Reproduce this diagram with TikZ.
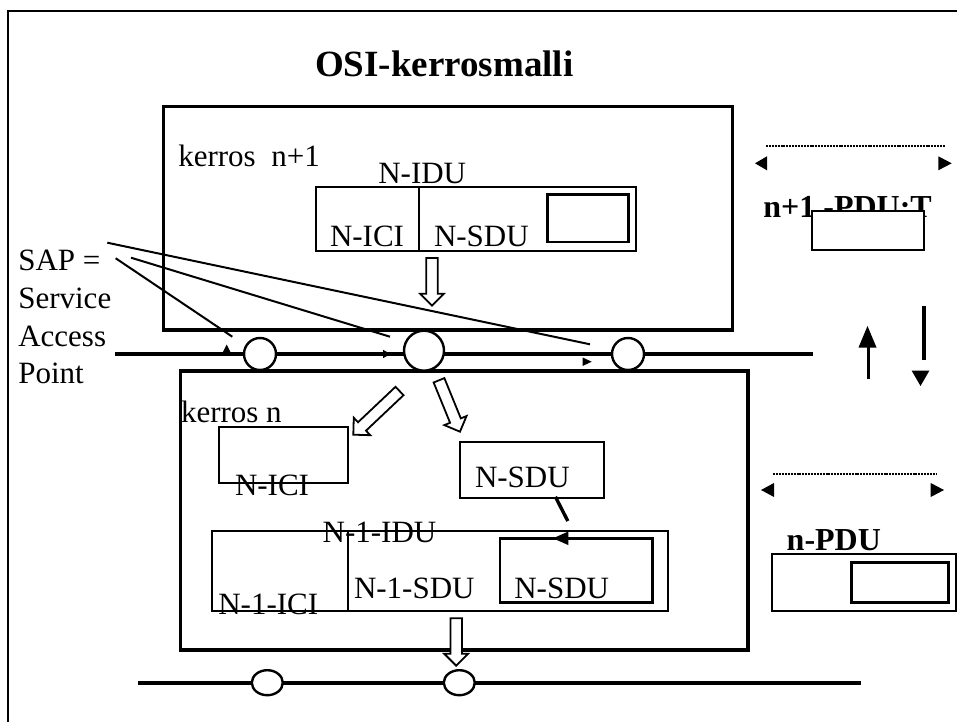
\documentclass[tikz,border=0pt]{standalone}
\usepackage{fontspec}
\setmainfont{Liberation Serif}
\usetikzlibrary{shapes.geometric}
\tikzset{
 txt/.style={font=\fontsize{31}{36}\selectfont, inner sep=0pt, outer sep=0pt, anchor=base west},
 btxt/.style={font=\bfseries\fontsize{32}{38}\selectfont, inner sep=0pt, outer sep=0pt, anchor=base west},
 heavy/.style={line width=3.6pt},
 thinbox/.style={line width=2pt},
 innerbox/.style={line width=2.6pt},
 pointer/.style={line width=2pt},
 tri/.style={fill=black, draw=none},
 sapcirc/.style={circle, draw, fill=white, line width=2.4pt, inner sep=0pt},
 sapell/.style={ellipse, draw, fill=white, line width=2.4pt, inner sep=0pt, minimum width=31pt, minimum height=25pt},
 hollow/.style={draw, fill=white, line width=1.8pt, line join=miter},
 dotline/.style={line width=2pt, dash pattern=on 2pt off 0.9pt},
}
\newcommand\hollowarr[4]{%
 \draw[hollow, shift={(#1,#2)}, rotate=#3] (0,-5.8) -- ({#4-12},-5.8) -- ({#4-12},-12) -- (#4,0) -- ({#4-12},12) -- ({#4-12},5.8) -- (0,5.8) -- cycle;}
\begin{document}
\begin{tikzpicture}[x=1pt,y=-1pt]
\useasboundingbox (0,0) rectangle (957,722);
% outer frame
\draw[line width=2pt] (8,722) -- (8,10.7) -- (958,10.7);
% title
\node[font=\bfseries\fontsize{37}{44}\selectfont, inner sep=0pt, anchor=base west] (title) at (315,76.7) {OSI-kerrosmalli};

% upper layer box
\draw[heavy] (163.3,106.7) rectangle (732.3,330);
\node[txt] (kn1) at (178.3,166.7) {kerros\ \ n+1};
\node[txt] (nidu) at (378.3,183.3) {N-IDU};
\draw[thinbox] (315.7,186.7) rectangle (636,250.7);
\draw[thinbox] (419.3,186.7) -- (419.3,250.7);
\draw[innerbox] (547.7,194.3) rectangle (628.3,242);
\node[txt] (nici1) at (330,246.7) {N-ICI};
\node[txt] (nsdu1) at (434,246.7) {N-SDU};
\hollowarr{432}{258}{-90}{47.7}

% SAP text
\node[txt] (sap1) at (18.3,270.7) {SAP =};
\node[txt] (sap2) at (18.3,308) {Service};
\node[txt] (sap3) at (18.3,346) {Access};
\node[txt] (sap4) at (18.3,383) {Point};

% lower layer box
\draw[heavy] (180.3,370.7) rectangle (748,650);

% upper service line and SAPs
\draw[heavy] (115,354) -- (813,354);
\node[sapcirc, minimum size=32pt] (c1) at (260,354) {};
\node[sapcirc, minimum size=40pt] (c2) at (424,350.7) {};
\node[sapcirc, minimum size=32pt] (c3) at (628,354) {};

% SAP pointer lines
\coordinate (s1) at (107.3,242.7);
\coordinate (s2) at (115.7,258.3);
\coordinate (s3) at (131,257.7);
\coordinate (e1) at (590,344.3);
\coordinate (e2) at (232.3,336.7);
\coordinate (e3) at (390,336.7);
\draw[pointer] (s1) -- (e1);
\draw[pointer] (s2) -- (e2);
\draw[pointer] (s3) -- (e3);
\fill[tri] (226.7,344.5) -- (231,353) -- (222.4,353) -- cycle;
\fill[tri] (390.5,354) -- (383,349.8) -- (383,358.2) -- cycle;
\fill[tri] (591.7,361.7) -- (582.7,357.5) -- (582.7,365.9) -- cycle;

% lower layer contents
\node[txt] (kn) at (181,422.3) {kerros n};
\hollowarr{399.5}{391}{-136.6}{63.6}
\hollowarr{439}{380.3}{-67.8}{55.5}
\draw[thinbox] (219.3,426.7) rectangle (348.3,482.7);
\node[txt] (nici2) at (235,495) {N-ICI};
\draw[thinbox] (460,442.3) rectangle (604,497.5);
\node[txt] (nsdu2) at (475,487) {N-SDU};
\coordinate (p1) at (555.4,496.8);
\coordinate (p2) at (567.8,521);
\draw[line width=3.4pt] (p1) -- (p2);

\draw[thinbox] (211.7,530.7) rectangle (668.3,610.7);
\draw[thinbox] (347.7,530.7) -- (347.7,610.7);
\draw[innerbox] (500,538.3) rectangle (652.3,602.3);
\fill[tri] (553,538.3) -- (568.3,531.5) -- (568.3,545.1) -- cycle;
\node[txt] (n1idu) at (322.7,542.7) {N-1-IDU};
\node[txt] (n1sdu) at (354,598.3) {N-1-SDU};
\node[txt] (nsdu3) at (514.3,598) {N-SDU};
\node[txt] (n1ici) at (218.3,614) {N-1-ICI};
\hollowarr{456.2}{618.3}{-90}{47.4}

% lower service line
\draw[heavy] (138,682.7) -- (860.5,682.7);
\node[sapell] (l1) at (267.3,682.7) {};
\node[sapell] (l2) at (459.3,682.7) {};

% right side: n+1 PDU
\draw[dotline] (766,146.4) -- (945,146.4);
\fill[tri] (755,163.3) -- (767,156.3) -- (767,170.3) -- cycle;
\fill[tri] (951.7,163.3) -- (938.3,156.3) -- (938.3,170.3) -- cycle;
\node[btxt] (pdu1) at (763.3,217) {n+1 -PDU:T};
\draw[thinbox, fill=white] (811.7,210.7) rectangle (924,250);

% vertical arrows
\draw[line width=3.4pt] (868.3,379.3) -- (868.3,342);
\fill[tri] (867.5,326) -- (876.5,347.5) -- (858.5,347.5) -- cycle;
\draw[line width=3.4pt] (924,305.7) -- (924,360);
\fill[tri] (911.7,370.7) -- (929.3,370.7) -- (920.5,386) -- cycle;

% right side: n PDU
\draw[dotline] (773.3,474) -- (936.7,474);
\fill[tri] (761,490) -- (774,483) -- (774,497) -- cycle;
\fill[tri] (944,490) -- (930.7,483) -- (930.7,497) -- cycle;
\node[btxt] (pdu2) at (786.7,550) {n-PDU};
\draw[thinbox] (771.7,554.3) rectangle (956,610.7);
\draw[innerbox] (851.7,562.7) rectangle (948.3,602.7);
\end{tikzpicture}
\end{document}
